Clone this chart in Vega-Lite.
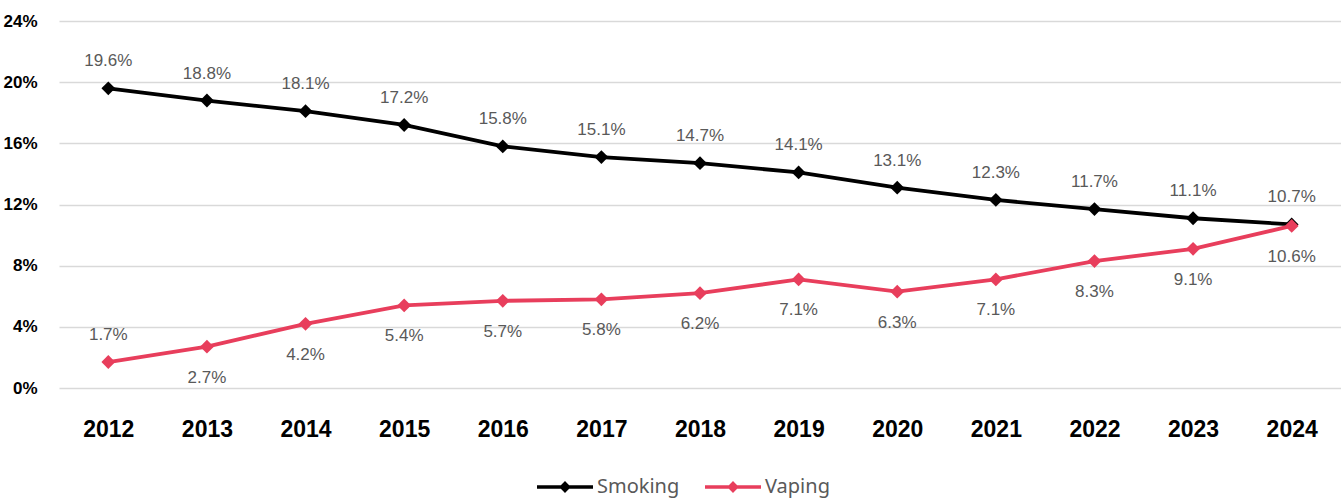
{
  "$schema": "https://vega.github.io/schema/vega-lite/v6.json",
  "width": 1282,
  "height": 367,
  "autosize": {"type": "none"},
  "padding": {"left": 59, "top": 21, "right": 0, "bottom": 111},
  "config": {
    "view": {"stroke": null},
    "background": "white"
  },
  "data": {
    "values": [
      {"year": "2012", "series": "Smoking", "value": 0.196, "pos": "above"},
      {"year": "2013", "series": "Smoking", "value": 0.188, "pos": "above"},
      {"year": "2014", "series": "Smoking", "value": 0.181, "pos": "above"},
      {"year": "2015", "series": "Smoking", "value": 0.172, "pos": "above"},
      {"year": "2016", "series": "Smoking", "value": 0.158, "pos": "above"},
      {"year": "2017", "series": "Smoking", "value": 0.151, "pos": "above"},
      {"year": "2018", "series": "Smoking", "value": 0.147, "pos": "above"},
      {"year": "2019", "series": "Smoking", "value": 0.141, "pos": "above"},
      {"year": "2020", "series": "Smoking", "value": 0.131, "pos": "above"},
      {"year": "2021", "series": "Smoking", "value": 0.123, "pos": "above"},
      {"year": "2022", "series": "Smoking", "value": 0.117, "pos": "above"},
      {"year": "2023", "series": "Smoking", "value": 0.111, "pos": "above"},
      {"year": "2024", "series": "Smoking", "value": 0.107, "pos": "above"},
      {"year": "2012", "series": "Vaping", "value": 0.017, "pos": "above"},
      {"year": "2013", "series": "Vaping", "value": 0.027, "pos": "below"},
      {"year": "2014", "series": "Vaping", "value": 0.042, "pos": "below"},
      {"year": "2015", "series": "Vaping", "value": 0.054, "pos": "below"},
      {"year": "2016", "series": "Vaping", "value": 0.057, "pos": "below"},
      {"year": "2017", "series": "Vaping", "value": 0.058, "pos": "below"},
      {"year": "2018", "series": "Vaping", "value": 0.062, "pos": "below"},
      {"year": "2019", "series": "Vaping", "value": 0.071, "pos": "below"},
      {"year": "2020", "series": "Vaping", "value": 0.063, "pos": "below"},
      {"year": "2021", "series": "Vaping", "value": 0.071, "pos": "below"},
      {"year": "2022", "series": "Vaping", "value": 0.083, "pos": "below"},
      {"year": "2023", "series": "Vaping", "value": 0.091, "pos": "below"},
      {"year": "2024", "series": "Vaping", "value": 0.106, "pos": "below"}
    ]
  },
  "encoding": {
    "x": {
      "field": "year",
      "type": "ordinal",
      "scale": {"type": "point", "padding": 0.5},
      "axis": {
        "title": null,
        "labelAngle": 0,
        "domain": false,
        "ticks": false,
        "grid": false,
        "labelFont": "Liberation Sans, Arial, sans-serif",
        "labelFontWeight": "bold",
        "labelFontSize": 23,
        "labelColor": "#000000",
        "labelPadding": 30
      }
    },
    "y": {
      "field": "value",
      "type": "quantitative",
      "scale": {"domain": [0, 0.24], "nice": false},
      "axis": {
        "title": null,
        "format": ".0%",
        "values": [0, 0.04, 0.08, 0.12, 0.16, 0.2, 0.24],
        "domain": false,
        "ticks": false,
        "grid": true,
        "gridColor": "#d9d9d9",
        "gridWidth": 1.5,
        "labelFont": "Liberation Sans, Arial, sans-serif",
        "labelFontWeight": "bold",
        "labelFontSize": 17,
        "labelColor": "#000000",
        "labelPadding": 22
      }
    },
    "color": {
      "field": "series",
      "type": "nominal",
      "scale": {"domain": ["Smoking", "Vaping"], "range": ["#000000", "#E83E5C"]},
      "legend": {
        "title": null,
        "orient": "none",
        "legendX": 478,
        "legendY": 438,
        "direction": "horizontal",
        "symbolType": "M-1,-0.06L1,-0.06L1,0.06L-1,0.06Z M0,-0.21L0.21,0L0,0.21L-0.21,0Z",
        "symbolSize": 3136,
        "symbolStrokeWidth": 0,
        "symbolOpacity": 1,
        "labelFont": "Noto Sans, sans-serif",
        "labelFontSize": 20,
        "labelColor": "#595959",
        "labelOffset": 4,
        "columnPadding": 25
      }
    }
  },
  "layer": [
    {
      "mark": {"type": "line", "strokeWidth": 3.8}
    },
    {
      "mark": {"type": "point", "shape": "diamond", "filled": true, "size": 190, "opacity": 1}
    },
    {
      "transform": [{"filter": "datum.pos == 'above'"}],
      "mark": {"type": "text", "dy": -27, "font": "Liberation Sans, Arial, sans-serif", "fontSize": 17},
      "encoding": {
        "text": {"field": "value", "type": "quantitative", "format": ".1%"},
        "color": {"value": "#595959"}
      }
    },
    {
      "transform": [{"filter": "datum.pos == 'below'"}],
      "mark": {"type": "text", "dy": 31, "font": "Liberation Sans, Arial, sans-serif", "fontSize": 17},
      "encoding": {
        "text": {"field": "value", "type": "quantitative", "format": ".1%"},
        "color": {"value": "#595959"}
      }
    }
  ]
}
